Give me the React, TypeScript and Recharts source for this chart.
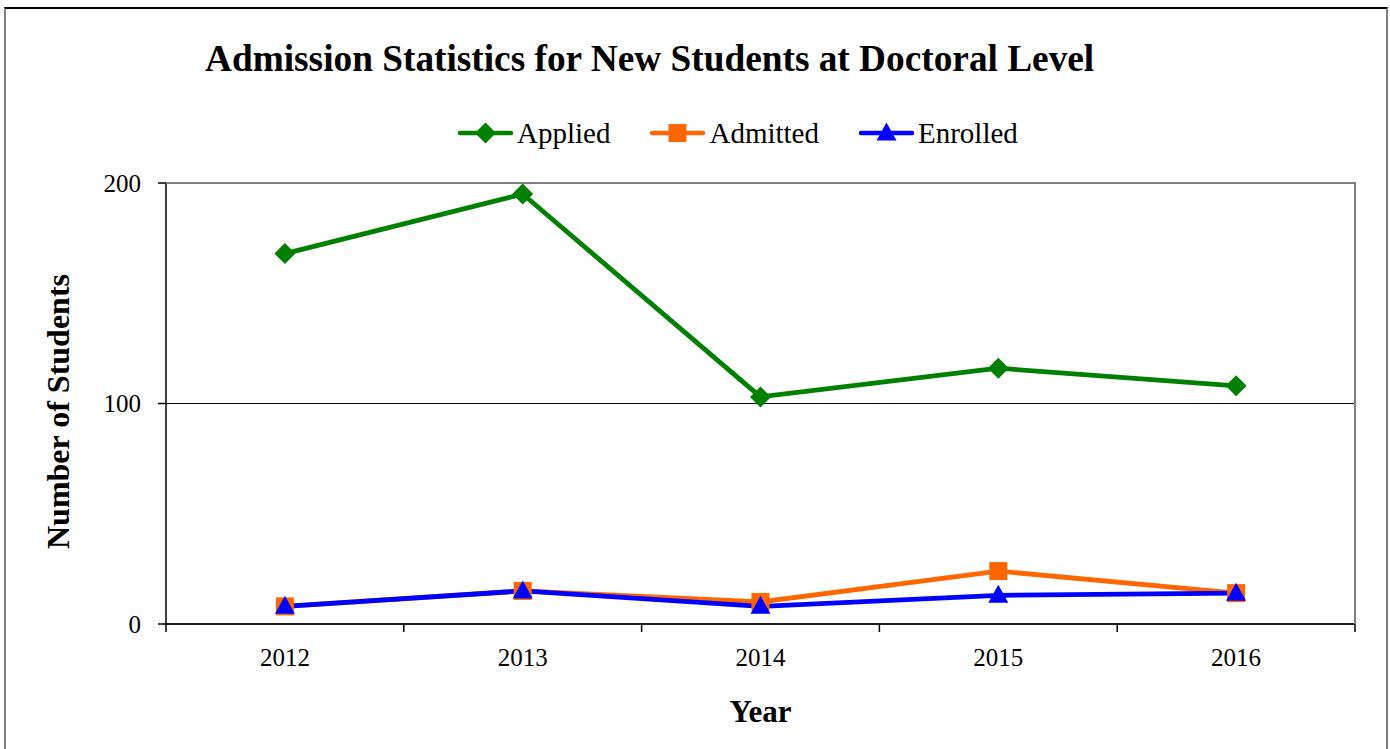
import * as React from 'react';
import { LineChart, Line, XAxis, YAxis, CartesianGrid, Legend, Label } from 'recharts';

const years = ['2012', '2013', '2014', '2015', '2016'];
const applied = [168, 195, 103, 116, 108];
const admitted = [8, 15, 10, 24, 14];
const enrolled = [8, 15, 8, 13, 14];
const yTicks = [0, 100, 200];

const FONT = '"Liberation Serif", "Times New Roman", serif';

const W = 1390;
const H = 749;
const margin = { top: 143, right: 35, bottom: 25, left: 40 };
const Y_AXIS_W = 126;
const X_AXIS_H = 100;
const plotLeft = margin.left + Y_AXIS_W;
const plotWidth = W - plotLeft - margin.right;
const band = plotWidth / years.length;
const plotTop = 183;
const plotBottom = H - margin.bottom - X_AXIS_H;

const data = years.map((year, i) => ({
  year,
  Applied: applied[i],
  Admitted: admitted[i],
  Enrolled: enrolled[i],
}));

type Shape = 'diamond' | 'square' | 'triangle';

function Marker({ shape, cx, cy, color }: { shape: Shape; cx: number; cy: number; color: string }) {
  if (shape === 'diamond') {
    const r = 10.5;
    return <polygon points={`${cx},${cy - r} ${cx + r},${cy} ${cx},${cy + r} ${cx - r},${cy}`} fill={color} />;
  }
  if (shape === 'square') {
    const s = 9;
    return <rect x={cx - s} y={cy - s} width={s * 2} height={s * 2} fill={color} />;
  }
  return <polygon points={`${cx},${cy - 10.5} ${cx + 10},${cy + 7.5} ${cx - 10},${cy + 7.5}`} fill={color} />;
}

const series: { key: string; color: string; shape: Shape }[] = [
  { key: 'Applied', color: '#008000', shape: 'diamond' },
  { key: 'Admitted', color: '#FF6600', shape: 'square' },
  { key: 'Enrolled', color: '#0000FF', shape: 'triangle' },
];

function makeDot(shape: Shape, color: string) {
  return (props: any) => {
    const { cx, cy, index } = props;
    if (cx == null || cy == null) return <g key={index} />;
    return (
      <g key={index}>
        <Marker shape={shape} cx={cx} cy={cy} color={color} />
      </g>
    );
  };
}

// labels at category centres, tick marks on the category boundaries
function YearTick(props: any) {
  const { x, y, payload, index } = props;
  return (
    <g>
      <line x1={x - band / 2} y1={y} x2={x - band / 2} y2={y + 8} stroke="#000" strokeWidth={1.5} />
      {index === years.length - 1 && (
        <line x1={x + band / 2} y1={y} x2={x + band / 2} y2={y + 8} stroke="#000" strokeWidth={1.5} />
      )}
      <text x={x} y={y + 42} textAnchor="middle" fontSize={25} fontFamily={FONT} fill="#000">
        {payload.value}
      </text>
    </g>
  );
}

function YTitle(props: any) {
  const { viewBox } = props;
  const x = viewBox.x + 18;
  const y = viewBox.y + viewBox.height / 2 + 8;
  return (
    <text
      x={x}
      y={y}
      transform={`rotate(-90, ${x}, ${y})`}
      textAnchor="middle"
      dominantBaseline="central"
      fontSize={32}
      fontWeight="bold"
      fontFamily={FONT}
      fill="#000"
    >
      Number of Students
    </text>
  );
}

function LegendContent() {
  return (
    <div style={{ display: 'flex', alignItems: 'center', height: 40, fontFamily: FONT, fontSize: 29, color: '#000' }}>
      {series.map((s, i) => (
        <div key={s.key} style={{ display: 'flex', alignItems: 'center', marginLeft: i === 0 ? 0 : 40 }}>
          <svg width={55} height={24} style={{ marginRight: 4 }}>
            <line x1={2} y1={12} x2={53} y2={12} stroke={s.color} strokeWidth={4.5} strokeLinecap="round" />
            <Marker shape={s.shape} cx={27.5} cy={12} color={s.color} />
          </svg>
          <span>{s.key}</span>
        </div>
      ))}
    </div>
  );
}

export default function App() {
  return (
    <div style={{ position: 'absolute', left: 0, top: 0, width: W, height: H, background: '#fff', overflow: 'hidden' }}>
      <div
        style={{
          position: 'absolute',
          left: 4,
          top: 7,
          width: 1384,
          height: 742,
          boxSizing: 'border-box',
          borderLeft: '2px solid #808080',
          borderRight: '2px solid #808080',
          borderTop: '2px solid #000',
        }}
      />
      <div
        style={{
          position: 'absolute',
          left: 205,
          top: 40,
          lineHeight: 1,
          fontFamily: FONT,
          fontWeight: 'bold',
          fontSize: 37.3,
          color: '#000',
          whiteSpace: 'nowrap',
        }}
      >
        Admission Statistics for New Students at Doctoral Level
      </div>
      <div style={{ position: 'absolute', left: 0, top: 0 }}>
        <LineChart width={W} height={H} data={data} margin={margin}>
          <CartesianGrid vertical={false} stroke="#000" strokeWidth={1} />
          <XAxis
            dataKey="year"
            height={X_AXIS_H}
            padding={{ left: band / 2, right: band / 2 }}
            axisLine={{ stroke: '#000', strokeWidth: 1.5 }}
            tickLine={false}
            tickSize={0}
            tickMargin={0}
            tick={<YearTick />}
            interval={0}
            label={{ value: 'Year', position: 'insideBottom', offset: 2, style: { fontSize: 31, fontWeight: 'bold', fill: '#000', fontFamily: FONT } }}
          />
          <YAxis
            domain={[0, 200]}
            ticks={yTicks}
            width={Y_AXIS_W}
            tickSize={8}
            tickMargin={17}
            axisLine={{ stroke: '#000', strokeWidth: 1.5 }}
            tickLine={{ stroke: '#000', strokeWidth: 1.5 }}
            tick={{ fontSize: 25, fill: '#000', fontFamily: FONT }}
          >
            <Label content={<YTitle />} />
          </YAxis>
          <Legend
            verticalAlign="top"
            align="left"
            height={40}
            content={<LegendContent />}
            wrapperStyle={{ top: 113, left: 458, width: 'auto' }}
          />
          {series.map((s) => (
            <Line
              key={s.key}
              dataKey={s.key}
              stroke={s.color}
              strokeWidth={4.8}
              dot={makeDot(s.shape, s.color)}
              activeDot={false}
              isAnimationActive={false}
            />
          ))}
        </LineChart>
      </div>
      {/* grey frame on the top and right of the plot area */}
      <div
        style={{
          position: 'absolute',
          left: plotLeft,
          top: plotTop - 1,
          width: plotWidth + 1,
          height: plotBottom - plotTop + 1,
          boxSizing: 'border-box',
          borderTop: '2.5px solid #808080',
          borderRight: '2.5px solid #808080',
          pointerEvents: 'none',
        }}
      />
    </div>
  );
}
